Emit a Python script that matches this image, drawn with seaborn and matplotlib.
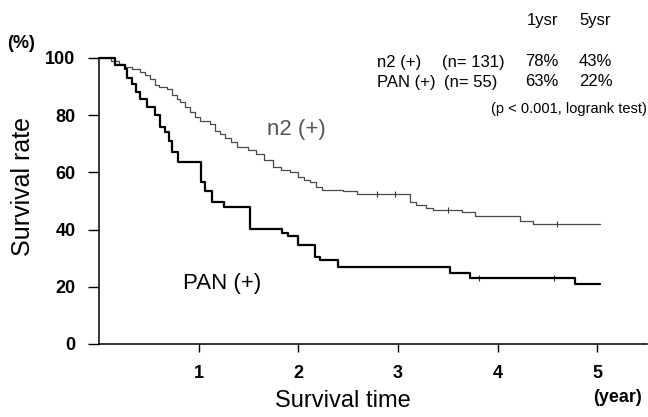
"""
Kaplan-Meier style survival curves: n2 (+) vs PAN (+).
"""

import matplotlib
matplotlib.use("Agg")
import matplotlib.pyplot as plt
import numpy as np
import pandas as pd
import seaborn as sns

# step points (years, survival %)
n2_time = [0, 0.12, 0.20, 0.26, 0.33, 0.41, 0.46, 0.51, 0.56, 0.60, 0.68, 0.73, 0.78, 0.81,
           0.86, 0.91, 0.96, 1.01, 1.11, 1.16, 1.21, 1.26, 1.32, 1.39, 1.50, 1.58, 1.66, 1.75,
           1.83, 1.92, 2.00, 2.06, 2.12, 2.18, 2.24, 2.45, 2.59, 3.12, 3.18, 3.28, 3.35, 3.64,
           3.77, 4.23, 4.36, 5.03]
n2_surv = [100, 99, 98, 97, 96, 95, 94, 92.5, 90.5, 90, 89, 87, 85.5, 84.5,
           83, 81, 79.5, 78, 77, 74.5, 73.5, 72, 70.5, 69, 68, 66.5, 64.5, 62,
           61, 60, 58.5, 57.5, 56.5, 55, 54, 53.5, 52.6, 49.5, 48.5, 47.5, 47, 46,
           44.6, 43, 42, 42]

pan_time = [0, 0.16, 0.26, 0.28, 0.33, 0.37, 0.41, 0.48, 0.56, 0.61, 0.66, 0.70, 0.73, 0.79,
            1.02, 1.06, 1.13, 1.25, 1.52, 1.84, 1.90, 2.00, 2.17, 2.22, 2.40, 3.52, 3.72,
            4.78, 5.03]
pan_surv = [100, 97.5, 96, 93, 91, 88, 85.5, 83, 80, 76, 74, 71, 67, 63.5,
            56.5, 53.5, 49.7, 47.9, 40.2, 38.8, 37.8, 34.6, 30.4, 29.4, 27, 25, 23,
            21, 21]

# censor ticks visible on the flat parts
n2_censor = [2.79, 2.97, 3.50, 4.60]
pan_censor = [3.81, 4.57]

y_ticks = [0, 20, 40, 60, 80, 100]
x_ticks = [1, 2, 3, 4, 5]

table_header = ["1ysr", "5ysr"]
group_names = ["n2 (+)", "PAN (+)"]
group_n = ["(n= 131)", "(n= 55)"]
surv_1y = ["78%", "63%"]
surv_5y = ["43%", "22%"]


def step_value(times, surv, t):
    idx = np.searchsorted(times, t, side="right") - 1
    return surv[idx]


def main():
    sns.set_theme(style="white")
    plt.rcParams["font.family"] = ["Liberation Sans", "DejaVu Sans"]
    for key in ["text.color", "axes.labelcolor", "xtick.color", "ytick.color"]:
        plt.rcParams[key] = "black"

    fig = plt.figure(figsize=(6.48, 4.17), dpi=100)
    ax = fig.add_axes([99 / 648, 1 - 344 / 417, 548 / 648, 286 / 417])

    df_n2 = pd.DataFrame({"time": n2_time, "surv": n2_surv})
    df_pan = pd.DataFrame({"time": pan_time, "surv": pan_surv})

    sns.lineplot(data=df_n2, x="time", y="surv", drawstyle="steps-post", estimator=None,
                 color="#4a4a4a", linewidth=0.9, ax=ax, clip_on=False)
    sns.lineplot(data=df_pan, x="time", y="surv", drawstyle="steps-post", estimator=None,
                 color="black", linewidth=1.6, ax=ax, clip_on=False)

    cen = pd.DataFrame({
        "time": n2_censor + pan_censor,
        "surv": [step_value(n2_time, n2_surv, t) for t in n2_censor]
        + [step_value(pan_time, pan_surv, t) for t in pan_censor],
    })
    sns.scatterplot(data=cen, x="time", y="surv", marker="|", s=14, color="#333333",
                    linewidth=0.8, ax=ax)

    ax.set_xlim(0, 5.5)
    ax.set_ylim(0, 100)
    ax.set_xticks(x_ticks)
    ax.set_yticks(y_ticks)
    ax.set_xticklabels([str(v) for v in x_ticks], fontsize=13, fontweight="bold")
    ax.set_yticklabels([str(v) for v in y_ticks], fontsize=13, fontweight="bold")
    ax.tick_params(axis="x", direction="out", length=6, width=1, pad=9, bottom=True)
    ax.tick_params(axis="y", direction="out", length=8, width=1, pad=9, left=True)
    for side in ["top", "right"]:
        ax.spines[side].set_visible(False)
    for side in ["left", "bottom"]:
        ax.spines[side].set_color("black")
        ax.spines[side].set_linewidth(1.1)

    ax.set_xlabel("Survival time", fontsize=17)
    ax.xaxis.label.set_va("center")
    ax.xaxis.set_label_coords((343 - 99) / 548, (344 - 401) / 286)
    ax.set_ylabel("Survival rate", fontsize=18)
    ax.yaxis.label.set_va("center")
    ax.yaxis.set_label_coords((23 - 99) / 548, (344 - 187) / 286)

    fig.text(21 / 648, 1 - 44 / 417, "(%)", fontsize=13, fontweight="bold", ha="center", va="center")
    fig.text(617 / 648, 1 - 398 / 417, "(year)", fontsize=13, fontweight="bold", ha="center", va="center")

    # curve labels
    ax.text((296 - 99) / 548, (344 - 130) / 286, "n2 (+)", transform=ax.transAxes,
            fontsize=16, color="#555555", ha="center", va="center")
    ax.text((222 - 99) / 548, (344 - 283) / 286, "PAN (+)", transform=ax.transAxes,
            fontsize=16, color="black", ha="center", va="center")

    # survival table, top right
    fs = 12
    fig.text(527 / 648, 1 - 20 / 417, table_header[0], fontsize=fs, ha="left", va="center")
    fig.text(579 / 648, 1 - 20 / 417, table_header[1], fontsize=fs, ha="left", va="center")
    for i, y in enumerate([62, 82]):
        fig.text(377 / 648, 1 - y / 417, group_names[i], fontsize=fs, ha="left", va="center")
        fig.text([505, 497][i] / 648, 1 - y / 417, group_n[i], fontsize=fs, ha="right", va="center")
        fig.text(525 / 648, 1 - y / 417, surv_1y[i], fontsize=fs, ha="left", va="center")
        fig.text(579 / 648, 1 - y / 417, surv_5y[i], fontsize=fs, ha="left", va="center")
    fig.text(647 / 648, 1 - 109 / 417, "(p < 0.001, logrank test)", fontsize=10.5,
             ha="right", va="center")

    fig.savefig("out.png", dpi=100)
    plt.close(fig)


if __name__ == "__main__":
    main()
